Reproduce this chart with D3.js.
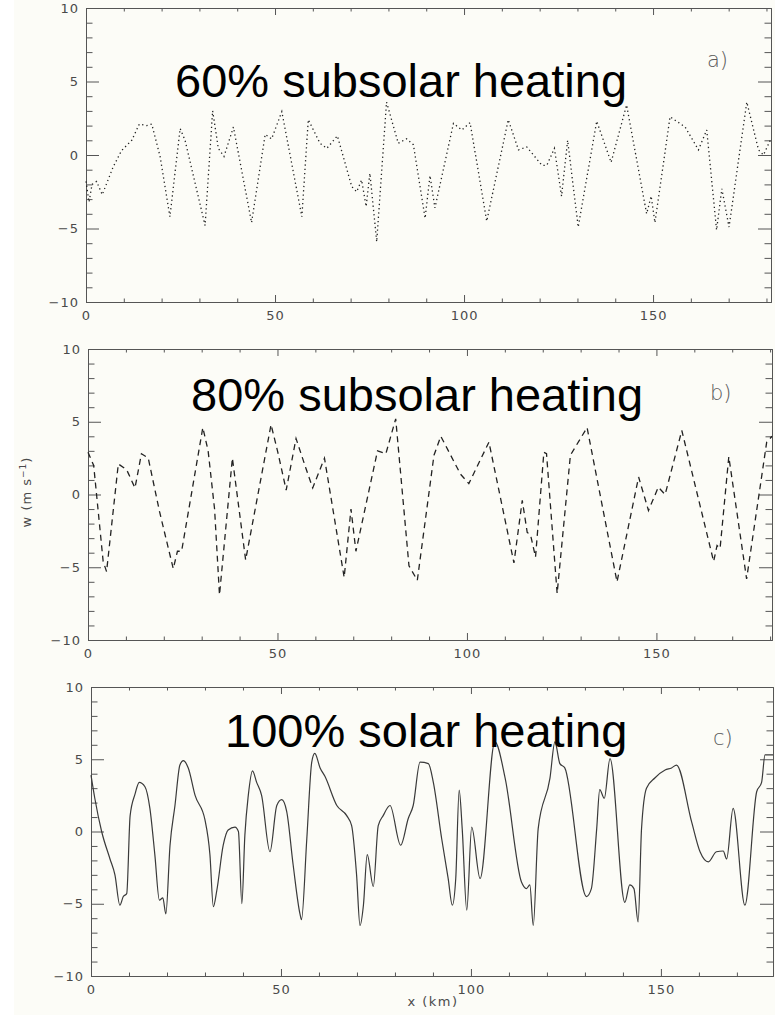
<!DOCTYPE html>
<html>
<head>
<meta charset="utf-8">
<script src="https://cdn.jsdelivr.net/npm/d3@7/dist/d3.min.js"></script>
<style>
  body { margin: 0; background: #ffffff; }
  svg { display: block; }
</style>
</head>
<body>
<svg id="chart" width="775" height="1022"></svg>
<script>
// ---- Data: vertical velocity w (m s^-1) along x (km) for three heating cases ----
const panelTitles  = ["60% subsolar heating", "80% subsolar heating", "100% solar heating"];
const panelLetters = ["a)", "b)", "c)"];

const xTicksMajor = [0, 50, 100, 150];
const xTickLabels = ["0", "50", "100", "150"];
const xTicksMinor = [10, 20, 30, 40, 60, 70, 80, 90, 110, 120, 130, 140, 160, 170, 180];
const yTicksMajor = [-10, -5, 0, 5, 10];
const yTickLabels = ["\u221210", "\u22125", "0", "5", "10"];
const yTicksMinor = [-9, -8, -7, -6, -4, -3, -2, -1, 1, 2, 3, 4, 6, 7, 8, 9];

// 60% subsolar heating
const aX = [0, 0.8, 1.6, 2.8, 4.3, 7.2, 9.4, 12.1, 14.1, 16.0, 17.4, 19.6, 22.2, 24.9, 26.2, 31.5, 33.5, 35.0, 36.5, 39.0,
            43.8, 47.4, 49.1, 51.8, 57.1, 58.8, 61.9, 63.7, 66.5, 70.3, 71.6, 72.9, 74.1, 75.1, 76.9, 79.5, 82.6, 84.8, 86.6, 89.7,
            91.0, 92.3, 97.2, 99.4, 101.6, 106.0, 111.7, 114.4, 116.6, 120.6, 121.9, 123.9, 125.8, 127.4, 130.2, 135.1, 138.9, 143.0,
            148.3, 149.5, 150.5, 154.5, 158.5, 162.0, 164.2, 166.8, 168.2, 170.1, 174.8, 177.9, 179.2, 181.0];
const aW = [-1.8, -3.2, -2.0, -1.8, -2.7, -0.8, 0.3, 1.0, 2.1, 2.0, 2.1, -0.1, -4.2, 1.8, 1.0, -4.8, 3.0, 0.45, -0.1, 1.9,
            -4.6, 1.4, 1.1, 2.95, -4.2, 2.4, 0.8, 0.45, 1.3, -2.15, -2.5, -1.7, -3.5, -1.25, -5.9, 3.6, 0.8, 1.1, 0.7, -4.3,
            -1.4, -3.6, 2.15, 1.7, 2.2, -4.5, 2.4, 0.35, 0.55, -0.7, -0.7, 0.45, -2.8, 1.0, -4.9, 2.3, -0.5, 3.4,
            -4.0, -2.8, -4.6, 2.6, 1.9, 0.35, 1.7, -5.1, -2.3, -4.9, 3.6, 0.35, 0.0, 1.0];

// 80% subsolar heating
const bX = [0, 1.5, 4.0, 4.9, 8.0, 10.2, 12.4, 14.1, 15.9, 18.9, 22.5, 23.6, 24.7, 30.3, 31.7, 33.4, 34.7, 38.1, 41.6, 48.3,
            50.1, 52.3, 54.9, 57.5, 59.3, 62.4, 67.6, 69.4, 70.7, 76.4, 78.6, 81.2, 84.7, 86.9, 91.3, 93.1, 98.3, 100.5, 105.8,
            112.4, 114.6, 115.9, 116.8, 118.1, 120.3, 121.0, 123.8, 127.3, 131.7, 139.6, 145.3, 147.9, 150.5, 152.3, 156.7,
            165.1, 166.0, 166.8, 169.1, 173.8, 179.1, 180.5];
const bW = [2.9, 2.0, -4.6, -5.3, 2.1, 1.7, 0.45, 2.8, 2.5, -1.2, -5.1, -3.9, -3.9, 4.6, 3.0, -1.0, -6.9, 2.5, -4.5, 4.8,
            2.9, 0.3, 3.85, 1.8, 0.45, 2.5, -5.7, -1.0, -3.9, 3.0, 2.8, 5.2, -4.9, -5.9, 2.7, 4.0, 1.4, 0.75, 3.6,
            -4.7, -0.4, -2.6, -2.8, -4.3, 2.9, 2.8, -6.8, 2.7, 4.6, -6.0, 1.2, -1.1, 0.5, 0.0, 4.4,
            -4.6, -3.5, -3.7, 2.6, -5.8, 3.6, 4.0];

// 100% solar heating
const cX = [0, 1.0, 2.8, 5.0, 6.3, 7.6, 8.5, 9.4, 10.3, 11.6, 12.7, 14.2, 15.5, 16.8, 18.0, 18.9, 19.7, 20.8, 22.1, 23.4,
            24.3, 25.6, 27.4, 30.0, 31.3, 32.2, 33.1, 34.8, 36.1, 37.9, 38.8, 39.7, 40.5, 41.4, 42.5, 43.6, 44.9, 47.1, 48.9,
            50.2, 51.5, 53.2, 55.0, 55.4, 56.8, 58.1, 58.9, 60.3, 61.6, 64.7, 67.3, 68.6, 69.9, 70.8, 71.7, 72.7, 74.3, 75.6,
            76.9, 78.7, 81.5, 83.5, 84.8, 86.6, 88.8, 90.1, 92.3, 94.0, 95.1, 96.0, 96.9, 97.7, 98.9, 100.2, 102.4, 106.3,
            109.0, 113.3, 114.6, 115.5, 116.4, 117.7, 120.8, 122.1, 123.4, 124.7, 130.4, 131.7, 133.1, 133.9, 135.1, 136.6,
            140.5, 141.8, 142.9, 144.0, 144.9, 146.2, 148.4, 151.1, 152.8, 154.1, 158.1, 160.3, 162.5, 164.6, 166.4, 167.3,
            169.0, 172.1, 175.2, 176.5, 177.4, 179.5];
const cW = [3.9, 2.3, 0.0, -1.9, -3.0, -5.1, -4.5, -4.3, 1.1, 2.6, 3.4, 3.1, 1.6, -1.6, -4.75, -4.6, -5.7, -0.95, 1.8, 4.6,
            4.9, 4.4, 2.5, 0.8, -1.6, -5.2, -4.1, -0.95, 0.1, 0.3, 0.0, -5.0, -0.25, 2.5, 4.2, 3.4, 2.5, -1.4, 1.8,
            2.2, 1.4, -2.3, -5.7, -6.1, -0.5, 4.8, 5.4, 4.4, 3.8, 1.8, 1.1, 0.4, -3.0, -6.5, -5.1, -1.6, -3.8, 0.4,
            1.1, 1.8, -0.95, 0.9, 1.8, 4.8, 4.7, 3.4, -0.5, -3.25, -5.1, -3.25, 2.86, 0.2, -5.45, 0.3, -3.25, 6.2,
            3.7, -3.5, -3.95, -3.7, -6.5, 0.2, 3.7, 6.2, 4.7, 4.4, -4.5, -3.95, 0.2, 2.9, 2.3, 5.05,
            -4.9, -3.7, -3.95, -6.25, 0.2, 3.0, 3.7, 4.25, 4.4, 4.6, 0.65, -1.4, -2.1, -1.4, -1.35, -1.9,
            1.6, -5.1, 2.75, 3.4, 5.3, 5.3];

const seriesX = [aX, bX, cX];
const seriesW = [aW, bW, cW];

// ---- Layout of the three stacked panels ----
const panels = [
  { left: 86, right: 771, xMax: 181.2, top: 8,   bottom: 302, titleX: 175, titleY: 97,  letterX: 707, letterY: 67,  dash: "1.3,3",  curve: d3.curveLinear },
  { left: 88, right: 772, xMax: 180.5, top: 349, bottom: 640, titleX: 191, titleY: 411, letterX: 710, letterY: 400, dash: "6,4.5",  curve: d3.curveLinear },
  { left: 91, right: 773, xMax: 179.5, top: 687, bottom: 976, titleX: 225, titleY: 747, letterX: 713, letterY: 745, dash: null,     curve: d3.curveMonotoneX }
];

const svg = d3.select("#chart");

// paper tone of the figure
svg.append("rect").attr("x", 0).attr("y", 0).attr("width", 775).attr("height", 1022).attr("fill", "#ffffff");
svg.append("rect").attr("x", 14).attr("y", 0).attr("width", 761).attr("height", 1015).attr("fill", "#fcfcf7");

const axisColor = "#555";
const labelFont = "'DejaVu Sans', sans-serif";

function styleAxis(g, showLabels) {
  g.select(".domain").attr("stroke", axisColor).attr("stroke-width", 1);
  g.selectAll(".tick line").attr("stroke", axisColor).attr("stroke-width", 1);
  g.selectAll(".tick text")
    .attr("fill", "#4a4a4a")
    .style("font-family", labelFont)
    .style("font-size", "13px")
    .style("letter-spacing", "1px")
    .style("display", showLabels ? null : "none");
}

panels.forEach((p, i) => {
  const x = d3.scaleLinear().domain([0, p.xMax]).range([p.left, p.right]);
  const y = d3.scaleLinear().domain([-10, 10]).range([p.bottom, p.top]);
  const g = svg.append("g").attr("class", "panel-" + i);

  const xMinor = xTicksMinor.filter(v => v <= p.xMax);

  // bottom axis (ticks pointing inward)
  g.append("g").attr("transform", `translate(0,${p.bottom})`)
    .call(d3.axisBottom(x).tickValues(xMinor).tickSize(-3.5).tickSizeOuter(0).tickFormat(""))
    .call(a => styleAxis(a, false));
  g.append("g").attr("transform", `translate(0,${p.bottom})`)
    .call(d3.axisBottom(x).tickValues(xTicksMajor).tickSize(-7).tickSizeOuter(0).tickPadding(9)
      .tickFormat((d, k) => xTickLabels[k]))
    .call(a => styleAxis(a, true));

  // top axis
  g.append("g").attr("transform", `translate(0,${p.top})`)
    .call(d3.axisTop(x).tickValues(xMinor).tickSize(-3.5).tickSizeOuter(0).tickFormat(""))
    .call(a => styleAxis(a, false));
  g.append("g").attr("transform", `translate(0,${p.top})`)
    .call(d3.axisTop(x).tickValues(xTicksMajor).tickSize(-7).tickSizeOuter(0).tickFormat(""))
    .call(a => styleAxis(a, false));

  // left axis
  g.append("g").attr("transform", `translate(${p.left},0)`)
    .call(d3.axisLeft(y).tickValues(yTicksMinor).tickSize(-6.5).tickSizeOuter(0).tickFormat(""))
    .call(a => styleAxis(a, false));
  g.append("g").attr("transform", `translate(${p.left},0)`)
    .call(d3.axisLeft(y).tickValues(yTicksMajor).tickSize(-13).tickSizeOuter(0).tickPadding(7)
      .tickFormat((d, k) => yTickLabels[k]))
    .call(a => styleAxis(a, true));

  // right axis
  g.append("g").attr("transform", `translate(${p.right},0)`)
    .call(d3.axisRight(y).tickValues(yTicksMinor).tickSize(-6.5).tickSizeOuter(0).tickFormat(""))
    .call(a => styleAxis(a, false));
  g.append("g").attr("transform", `translate(${p.right},0)`)
    .call(d3.axisRight(y).tickValues(yTicksMajor).tickSize(-13).tickSizeOuter(0).tickFormat(""))
    .call(a => styleAxis(a, false));

  // w(x) trace
  const pts = seriesX[i].map((xv, k) => [xv, seriesW[i][k]]);
  const line = d3.line().x(d => x(d[0])).y(d => y(d[1])).curve(p.curve);
  g.append("path")
    .datum(pts)
    .attr("d", line)
    .attr("fill", "none")
    .attr("stroke", i === 2 ? "#3a3a3a" : "#222")
    .attr("stroke-width", i === 2 ? 1.2 : 1.3)
    .attr("stroke-dasharray", p.dash);

  // panel letter
  g.append("text")
    .attr("x", p.letterX).attr("y", p.letterY)
    .attr("fill", "#5a5a5a")
    .style("font-family", labelFont)
    .style("font-size", "21px")
    .style("font-weight", 300)
    .text(panelLetters[i]);

  // heating case title
  g.append("text")
    .attr("x", p.titleX).attr("y", p.titleY)
    .attr("fill", "#000")
    .style("font-family", "'Liberation Sans', Arial, sans-serif")
    .style("font-size", "47px")
    .text(panelTitles[i]);
});

// axis titles
svg.append("text")
  .attr("transform", "translate(31,492) rotate(-90)")
  .attr("text-anchor", "middle")
  .attr("fill", "#4a4a4a")
  .style("font-family", labelFont)
  .style("font-size", "13px")
  .style("letter-spacing", "1px")
  .text("w (m s")
  .append("tspan").attr("dy", -5).style("font-size", "9px").text("\u22121")
  .select(function() { return this.parentNode; })
  .append("tspan").attr("dy", 5).text(")");

svg.append("text")
  .attr("x", 433).attr("y", 1006)
  .attr("text-anchor", "middle")
  .attr("fill", "#4a4a4a")
  .style("font-family", labelFont)
  .style("font-size", "13px")
  .style("letter-spacing", "1.5px")
  .text("x (km)");
</script>
</body>
</html>
